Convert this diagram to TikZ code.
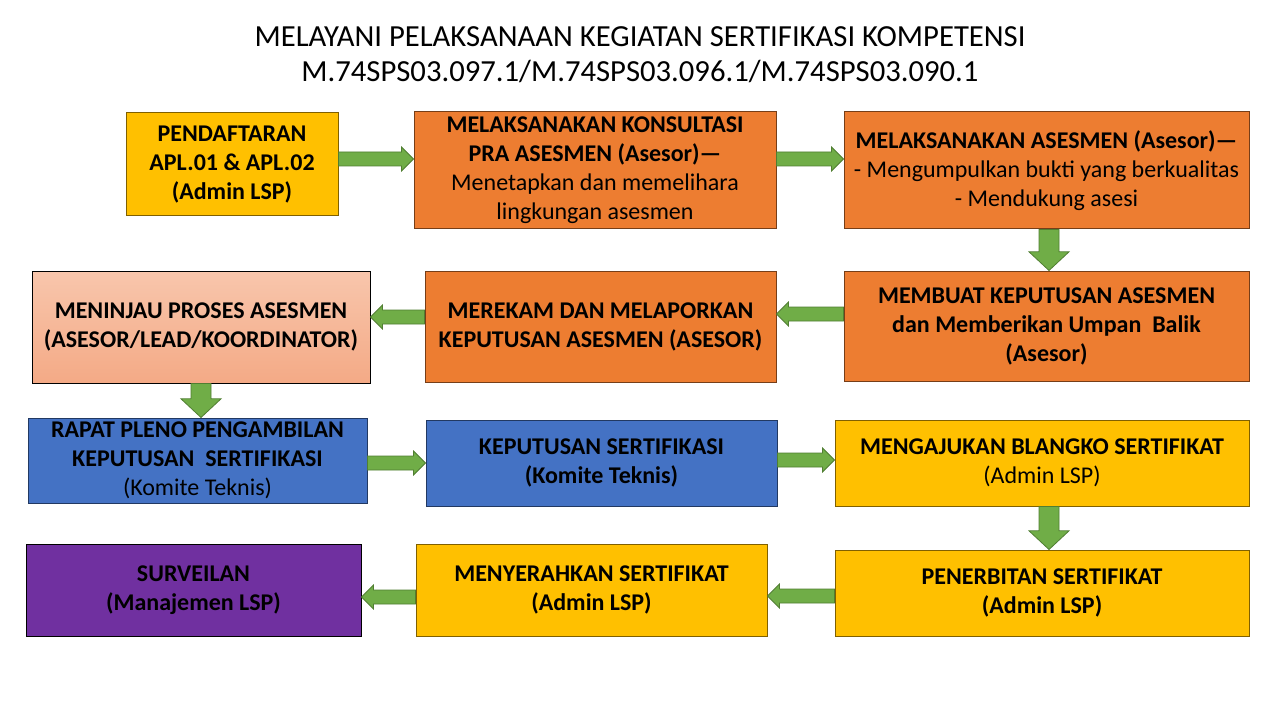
\documentclass[tikz,border=0pt]{standalone}
\usepackage{fontspec}
\setmainfont{Carlito}
\usetikzlibrary{calc}
\definecolor{yel}{HTML}{FFC000}
\definecolor{org}{HTML}{ED7D31}
\definecolor{blu}{HTML}{4472C4}
\definecolor{pur}{HTML}{7030A0}
\definecolor{grn}{HTML}{70AD47}
\definecolor{grnd}{HTML}{507E32}
\definecolor{sal1}{HTML}{F8C6AC}
\definecolor{sal2}{HTML}{F4AA86}
\newcommand\rg{\mdseries}
\tikzset{
  box/.style={draw, rectangle, inner sep=0pt, align=center, line width=0.75pt,
    font=\bfseries\fontsize{18}{21.75}\selectfont},
  yelbox/.style={box, fill=yel, draw=yel!50!black},
  orgbox/.style={box, fill=org, draw=org!50!black},
  blubox/.style={box, fill=blu, draw=blu!50!black},
  purbox/.style={box, fill=pur, draw=black},
  salbox/.style={box, top color=sal1, bottom color=sal2, draw=black},
  barrow/.style={fill=grn, draw=grnd, line width=0.6pt}
}
\newcommand\bx[7]{\node[#6, minimum width={(#4-#2)*0.75pt}, minimum height={(#5-#3)*0.75pt}] (#1) at ({(#2+#4)/2},{(#3+#5)/2}) {#7};}
\newcommand\arR[3]{\draw[barrow] let \p1=(#1.east), \p2=(#2.west), \p3=(0,#3) in
  (\x1,\y3+5.25pt) -- (\x2-9pt,\y3+5.25pt) -- (\x2-9pt,\y3+9pt) -- (\x2,\y3) -- (\x2-9pt,\y3-9pt) -- (\x2-9pt,\y3-5.25pt) -- (\x1,\y3-5.25pt) -- cycle;}
\newcommand\arL[3]{\draw[barrow] let \p1=(#1.west), \p2=(#2.east), \p3=(0,#3) in
  (\x1,\y3+5.25pt) -- (\x2+9pt,\y3+5.25pt) -- (\x2+9pt,\y3+9pt) -- (\x2,\y3) -- (\x2+9pt,\y3-9pt) -- (\x2+9pt,\y3-5.25pt) -- (\x1,\y3-5.25pt) -- cycle;}
\newcommand\arD[3]{\draw[barrow] let \p1=(#1.south), \p2=(#2.north), \p3=(#3,0) in
  (\x3-7.5pt,\y1) -- (\x3-7.5pt,\y2+14pt) -- (\x3-15pt,\y2+14pt) -- (\x3,\y2) -- (\x3+15pt,\y2+14pt) -- (\x3+7.5pt,\y2+14pt) -- (\x3+7.5pt,\y1) -- cycle;}
\begin{document}
\begin{tikzpicture}[x=0.75pt, y=-0.75pt]
\useasboundingbox[fill=white] (0,0) rectangle (1280,720);
\node[align=center, font=\fontsize{23}{26.5}\selectfont] (title) at (640,55)
  {MELAYANI PELAKSANAAN KEGIATAN SERTIFIKASI KOMPETENSI\\M.74SPS03.097.1/M.74SPS03.096.1/M.74SPS03.090.1};
\bx{b1}{126}{113}{338}{216}{yelbox}{PENDAFTARAN\\APL.01 \& APL.02\\(Admin LSP)}
\bx{b2}{414}{112}{776}{229}{orgbox}{MELAKSANAKAN KONSULTASI\\PRA ASESMEN (Asesor)—\\\rg Menetapkan dan memelihara\\\rg lingkungan asesmen}
\bx{b3}{844}{112}{1249}{229}{orgbox}{MELAKSANAKAN ASESMEN (Asesor)—\\\rg - Mengumpulkan bukti yang berkualitas\\\rg - Mendukung asesi}
\bx{b4}{844}{271}{1249}{381}{orgbox}{MEMBUAT KEPUTUSAN ASESMEN\\dan Memberikan Umpan\ \ Balik\\(Asesor)}
\bx{b5}{425}{271}{776}{382}{orgbox}{MEREKAM DAN MELAPORKAN\\KEPUTUSAN ASESMEN (ASESOR)}
\bx{b6}{32}{271}{370}{383}{salbox}{MENINJAU PROSES ASESMEN\\(ASESOR/LEAD/KOORDINATOR)}
\bx{b7}{28}{418}{367}{503}{blubox}{RAPAT PLENO PENGAMBILAN\\KEPUTUSAN\ \ SERTIFIKASI\\\rg (Komite Teknis)}
\bx{b8}{426}{420}{777}{506}{blubox}{KEPUTUSAN SERTIFIKASI\\(Komite Teknis)}
\bx{b9}{835}{420}{1249}{506}{yelbox}{MENGAJUKAN BLANGKO SERTIFIKAT\\\rg (Admin LSP)}
\bx{b10}{835}{550}{1249}{636}{yelbox}{PENERBITAN SERTIFIKAT\\(Admin LSP)}
\bx{b11}{416}{544}{767}{636}{yelbox}{MENYERAHKAN SERTIFIKAT\\(Admin LSP)}
\bx{b12}{26}{544}{361}{636}{purbox}{SURVEILAN\\(Manajemen LSP)}
\arR{b1}{b2}{159}
\arR{b2}{b3}{159}
\arD{b3}{b4}{1049}
\arL{b4}{b5}{314}
\arL{b5}{b6}{317}
\arD{b6}{b7}{201}
\arR{b7}{b8}{463}
\arR{b8}{b9}{460}
\arD{b9}{b10}{1049}
\arL{b10}{b11}{596}
\arL{b11}{b12}{597}
\end{tikzpicture}
\end{document}
